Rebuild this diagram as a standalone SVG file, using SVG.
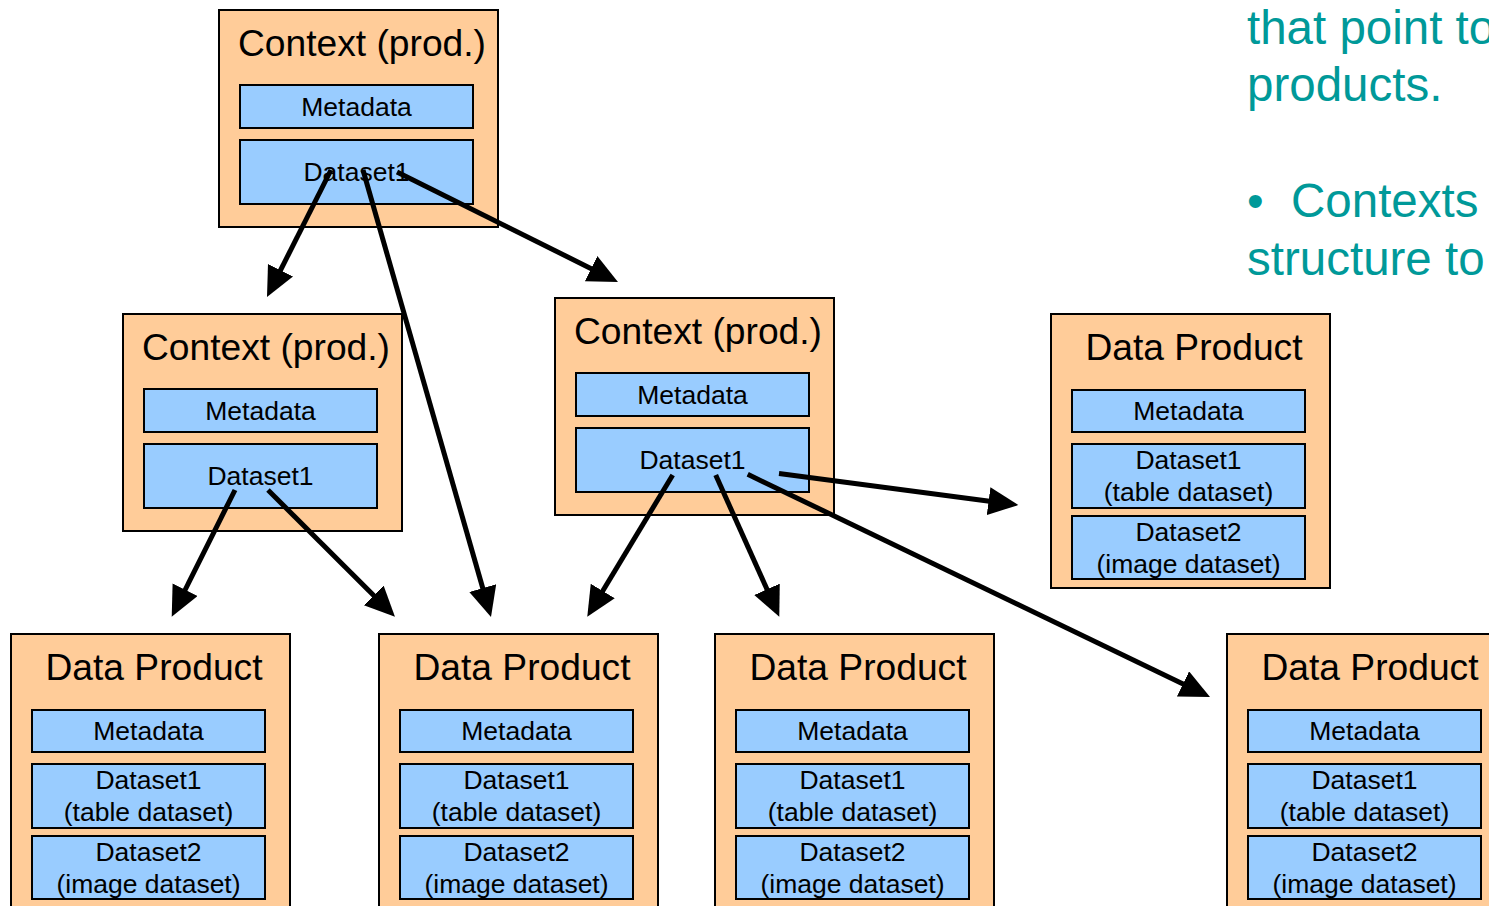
<svg xmlns="http://www.w3.org/2000/svg" width="1489" height="906" viewBox="0 0 1489 906">
<style>
.box{fill:#FFCC99;stroke:#000;stroke-width:2}
.in{fill:#99CCFF;stroke:#000;stroke-width:2}
text{font-family:"Liberation Sans",Arial,sans-serif;fill:#000}
.t{font-size:37.2px;text-anchor:middle}
.s{font-size:26.5px;text-anchor:middle}
.r{font-size:47.5px;fill:#009999}
.c{stroke:#000;stroke-width:5;fill:none;marker-end:url(#ah)}
</style>
<defs>
<marker id="ah" markerUnits="userSpaceOnUse" markerWidth="32" markerHeight="30" refX="22" refY="14" orient="auto">
<path d="M0,0 L30,14 L0,28 Z" fill="#000"/>
</marker>
</defs>
<rect width="1489" height="906" fill="#fff"/>

<g id="ctx-top">
<rect class="box" x="219" y="10" width="279" height="217"/>
<text class="t" x="362" y="56">Context (prod.)</text>
<rect class="in" x="240" y="85" width="233" height="43"/>
<text class="s" x="356.5" y="116">Metadata</text>
<rect class="in" x="240" y="140" width="233" height="64"/>
<text class="s" x="356.5" y="181">Dataset1</text>
</g>

<g id="ctx-left">
<rect class="box" x="123" y="314" width="279" height="217"/>
<text class="t" x="266" y="360">Context (prod.)</text>
<rect class="in" x="144" y="389" width="233" height="43"/>
<text class="s" x="260.5" y="420">Metadata</text>
<rect class="in" x="144" y="444" width="233" height="64"/>
<text class="s" x="260.5" y="485">Dataset1</text>
</g>

<g id="ctx-mid">
<rect class="box" x="555" y="298" width="279" height="217"/>
<text class="t" x="698" y="344">Context (prod.)</text>
<rect class="in" x="576" y="373" width="233" height="43"/>
<text class="s" x="692.5" y="404">Metadata</text>
<rect class="in" x="576" y="428" width="233" height="64"/>
<text class="s" x="692.5" y="469">Dataset1</text>
</g>

<g id="dp-right">
<rect class="box" x="1051" y="314" width="279" height="274"/>
<text class="t" x="1194" y="360">Data Product</text>
<rect class="in" x="1072" y="390" width="233" height="42"/>
<text class="s" x="1188.5" y="420">Metadata</text>
<rect class="in" x="1072" y="444" width="233" height="64"/>
<text class="s" x="1188.5" y="469">Dataset1</text>
<text class="s" x="1188.5" y="501">(table dataset)</text>
<rect class="in" x="1072" y="516" width="233" height="63"/>
<text class="s" x="1188.5" y="541">Dataset2</text>
<text class="s" x="1188.5" y="573">(image dataset)</text>
</g>

<g id="dp-1">
<rect class="box" x="11" y="634" width="279" height="274"/>
<text class="t" x="154" y="680">Data Product</text>
<rect class="in" x="32" y="710" width="233" height="42"/>
<text class="s" x="148.5" y="740">Metadata</text>
<rect class="in" x="32" y="764" width="233" height="64"/>
<text class="s" x="148.5" y="789">Dataset1</text>
<text class="s" x="148.5" y="821">(table dataset)</text>
<rect class="in" x="32" y="836" width="233" height="63"/>
<text class="s" x="148.5" y="861">Dataset2</text>
<text class="s" x="148.5" y="893">(image dataset)</text>
</g>

<g id="dp-2">
<rect class="box" x="379" y="634" width="279" height="274"/>
<text class="t" x="522" y="680">Data Product</text>
<rect class="in" x="400" y="710" width="233" height="42"/>
<text class="s" x="516.5" y="740">Metadata</text>
<rect class="in" x="400" y="764" width="233" height="64"/>
<text class="s" x="516.5" y="789">Dataset1</text>
<text class="s" x="516.5" y="821">(table dataset)</text>
<rect class="in" x="400" y="836" width="233" height="63"/>
<text class="s" x="516.5" y="861">Dataset2</text>
<text class="s" x="516.5" y="893">(image dataset)</text>
</g>

<g id="dp-3">
<rect class="box" x="715" y="634" width="279" height="274"/>
<text class="t" x="858" y="680">Data Product</text>
<rect class="in" x="736" y="710" width="233" height="42"/>
<text class="s" x="852.5" y="740">Metadata</text>
<rect class="in" x="736" y="764" width="233" height="64"/>
<text class="s" x="852.5" y="789">Dataset1</text>
<text class="s" x="852.5" y="821">(table dataset)</text>
<rect class="in" x="736" y="836" width="233" height="63"/>
<text class="s" x="852.5" y="861">Dataset2</text>
<text class="s" x="852.5" y="893">(image dataset)</text>
</g>

<g id="dp-4">
<rect class="box" x="1227" y="634" width="279" height="274"/>
<text class="t" x="1370" y="680">Data Product</text>
<rect class="in" x="1248" y="710" width="233" height="42"/>
<text class="s" x="1364.5" y="740">Metadata</text>
<rect class="in" x="1248" y="764" width="233" height="64"/>
<text class="s" x="1364.5" y="789">Dataset1</text>
<text class="s" x="1364.5" y="821">(table dataset)</text>
<rect class="in" x="1248" y="836" width="233" height="63"/>
<text class="s" x="1364.5" y="861">Dataset2</text>
<text class="s" x="1364.5" y="893">(image dataset)</text>
</g>

<g id="connectors">
<line class="c" x1="331" y1="170" x2="270.6" y2="289.9"/>
<line class="c" x1="363" y1="170" x2="488.8" y2="609.3"/>
<line class="c" x1="397" y1="172" x2="610.8" y2="278.4"/>
<line class="c" x1="235" y1="490" x2="175.3" y2="609.5"/>
<line class="c" x1="268" y1="490" x2="389.3" y2="611"/>
<line class="c" x1="672.7" y1="475" x2="591.4" y2="609.8"/>
<line class="c" x1="715.7" y1="475" x2="776" y2="609.4"/>
<line class="c" x1="779" y1="473.5" x2="1010.4" y2="504"/>
<line class="c" x1="747.7" y1="474.3" x2="1202.8" y2="693.5"/>
</g>

<g id="side-text">
<text class="r" x="1247" y="44">that point to</text>
<text class="r" x="1247" y="101">products.</text>
<text class="r" x="1247" y="217">•</text>
<text class="r" x="1291" y="217">Contexts</text>
<text class="r" x="1247" y="275">structure to</text>
</g>
</svg>
